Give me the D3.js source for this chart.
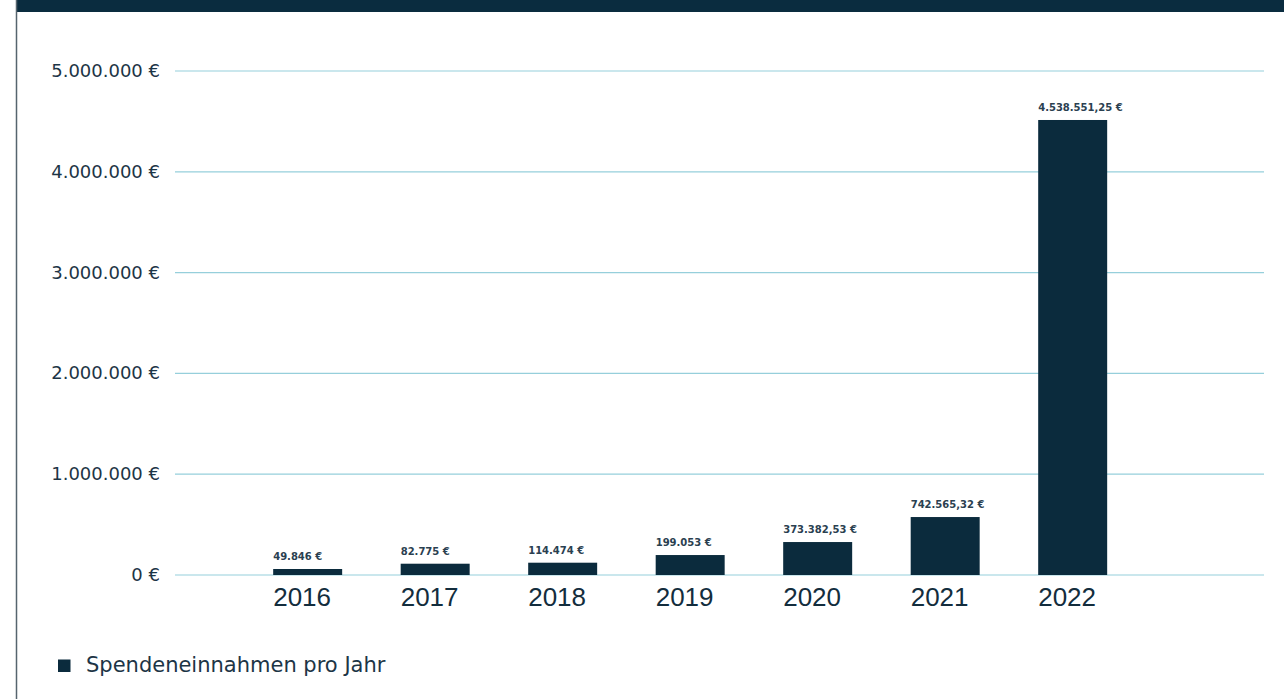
<!DOCTYPE html>
<html>
<head>
<meta charset="utf-8">
<script src="https://cdn.jsdelivr.net/npm/d3@7"></script>
<style>
  body { margin: 0; background: #fff; }
  svg { display: block; }
</style>
</head>
<body>
<div id="chart"></div>
<script>
// data
const years = ["2016", "2017", "2018", "2019", "2020", "2021", "2022"];
// bar heights as drawn in the reference
const barValues = [59500, 112000, 122000, 198000, 327000, 575000, 4514000];
// value labels printed above the bars
const valueLabels = ["49.846 €", "82.775 €", "114.474 €", "199.053 €", "373.382,53 €", "742.565,32 €", "4.538.551,25 €"];
const yTicks = [0, 1000000, 2000000, 3000000, 4000000, 5000000];
const yTickLabels = ["0 €", "1.000.000 €", "2.000.000 €", "3.000.000 €", "4.000.000 €", "5.000.000 €"];
const legendLabel = "Spendeneinnahmen pro Jahr";

const width = 1284, height = 699;
const navy = "#0b2b3d";
const textColor = "#1d3546";
const gridColor = "#96cfdb";

const svg = d3.select("#chart").append("svg")
  .attr("width", width)
  .attr("height", height);

// frame: dark top strip and thin left rule
svg.append("rect")
  .attr("x", 16).attr("y", 0)
  .attr("width", width - 16).attr("height", 12)
  .attr("fill", "#0a2c3f");
svg.append("line")
  .attr("x1", 16.5).attr("x2", 16.5)
  .attr("y1", 0).attr("y2", height)
  .attr("stroke", "#56646e")
  .attr("stroke-width", 1.5);

const x = d3.scaleBand()
  .domain(years)
  .range([175, 1264])
  .paddingInner(0.459)
  .paddingOuter(1.0)
  .align(0.385);

const y = d3.scaleLinear()
  .domain([0, 5000000])
  .range([575, 71]);

// grid lines
svg.selectAll("line.grid")
  .data(yTicks)
  .enter().append("line")
  .attr("class", "grid")
  .attr("x1", 175).attr("x2", 1264)
  .attr("y1", d => y(d)).attr("y2", d => y(d))
  .attr("stroke", gridColor)
  .attr("stroke-width", 1.2);

// y tick labels
svg.selectAll("text.ytick")
  .data(yTicks)
  .enter().append("text")
  .attr("class", "ytick")
  .attr("x", 160)
  .attr("y", d => y(d) + 6)
  .attr("text-anchor", "end")
  .attr("font-family", "DejaVu Sans")
  .attr("font-size", 18)
  .attr("fill", textColor)
  .text((d, i) => yTickLabels[i]);

// bars
svg.selectAll("rect.bar")
  .data(years)
  .enter().append("rect")
  .attr("class", "bar")
  .attr("x", d => x(d))
  .attr("width", x.bandwidth())
  .attr("y", (d, i) => y(barValues[i]))
  .attr("height", (d, i) => y(0) - y(barValues[i]))
  .attr("fill", navy);

// value labels, left-aligned with bar
svg.selectAll("text.value")
  .data(years)
  .enter().append("text")
  .attr("class", "value")
  .attr("x", d => x(d))
  .attr("y", (d, i) => y(barValues[i]) - 9)
  .attr("font-family", "DejaVu Sans")
  .attr("font-weight", "bold")
  .attr("font-size", 10)
  .attr("fill", "#2a4050")
  .text((d, i) => valueLabels[i]);

// year labels
svg.selectAll("text.year")
  .data(years)
  .enter().append("text")
  .attr("class", "year")
  .attr("x", d => x(d))
  .attr("y", 606)
  .attr("font-family", "Liberation Sans")
  .attr("font-size", 26)
  .attr("fill", "#132d3d")
  .text(d => d);

// legend
svg.append("rect")
  .attr("x", 58).attr("y", 659.5)
  .attr("width", 12.5).attr("height", 12.5)
  .attr("fill", navy);
svg.append("text")
  .attr("x", 86)
  .attr("y", 671.5)
  .attr("font-family", "DejaVu Sans")
  .attr("font-size", 21)
  .attr("fill", textColor)
  .text(legendLabel);
</script>
</body>
</html>
